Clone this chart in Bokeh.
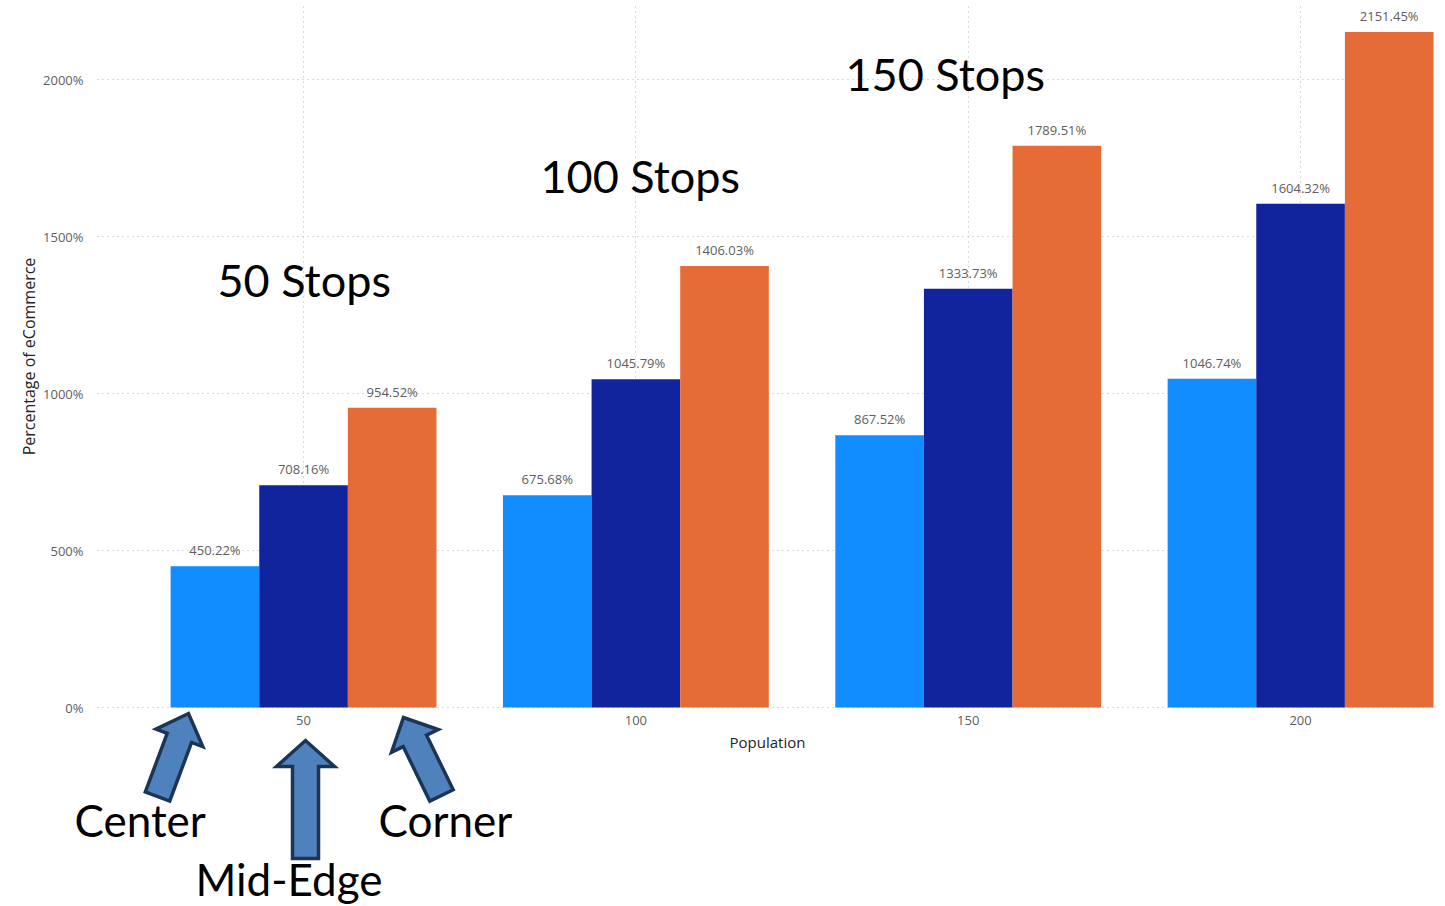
from bokeh.plotting import figure
from bokeh.models import ColumnDataSource, Range1d, FixedTicker, PrintfTickFormatter
from bokeh.transform import dodge
from bokeh.core.properties import value
from bokeh.embed import file_html
from bokeh.resources import INLINE
import math

# Percentage of eCommerce by population, per depot placement
population = [50, 100, 150, 200]
center = [450.22, 675.68, 867.52, 1046.74]
mid_edge = [708.16, 1045.79, 1333.73, 1604.32]
corner = [954.52, 1406.03, 1789.51, 2151.45]
y_ticks = [0, 500, 1000, 1500, 2000]

series_names = ["Center", "Mid-Edge", "Corner"]
series_values = [center, mid_edge, corner]
series_colors = ["#118DFF", "#12239E", "#E66C37"]

stop_labels = ["50 Stops", "100 Stops", "150 Stops"]

# canvas size and the pixel box that holds the bars (pixels)
W, H = 1445, 906
FL, FR, FT, FB = 97, 1437, 5, 707
# data extent of that box
X0, X1 = 19.0, 220.6
Y0, Y1 = 0.0, 2236.0

# the plot frame spans the whole canvas so notes and arrows can sit below the axis
SX = (FR - FL) / (X1 - X0)
SY = (FB - FT) / (Y1 - Y0)
XA, XB = X0 - FL / SX, X0 + (W - FL) / SX
YA, YB = Y0 - (H - FB) / SY, Y1 + FT / SY

GROUP = 40.0
BAR_W = GROUP / 3

TICK_FONT = "Open Sans"
TICK_COLOR = "#605E5C"
NOTE_FONT = "Lato"
BASELINE_SHIFT = 0.38  # em, lifts text drawn with an alphabetic baseline


def to_data(px, py):
    """Canvas pixel position -> data coordinates."""
    return XA + px / SX, YB - py / SY


p = figure(width=W, height=H, title=None,
           x_range=Range1d(XA, XB), y_range=Range1d(YA, YB),
           output_backend="svg", toolbar_location=None,
           min_border_left=0, min_border_right=0,
           min_border_top=0, min_border_bottom=0)
p.outline_line_color = None
p.background_fill_color = "white"
p.border_fill_color = "white"

# axes pinned at the edges of the bar area
p.xaxis.fixed_location = Y0
p.yaxis.fixed_location = X0
p.xaxis.bounds = (X0, X1)
p.yaxis.bounds = (Y0, Y1)
p.xaxis.ticker = FixedTicker(ticks=population)
p.yaxis.ticker = FixedTicker(ticks=y_ticks)
p.yaxis.formatter = PrintfTickFormatter(format="%d%%")
for ax in (p.xaxis, p.yaxis):
    ax.axis_line_color = None
    ax.major_tick_line_color = None
    ax.minor_tick_line_color = None
    ax.major_tick_out = 0
    ax.major_tick_in = 0
    ax.minor_tick_out = 0
    ax.minor_tick_in = 0
    ax.major_label_text_font = TICK_FONT
    ax.major_label_text_font_size = "13px"
    ax.major_label_text_color = TICK_COLOR
    ax.axis_label_text_font = TICK_FONT
    ax.axis_label_text_font_style = "normal"
    ax.axis_label_text_color = "#252423"
p.xaxis.axis_label = "Population"
p.yaxis.axis_label = "Percentage of eCommerce"
p.xaxis.axis_label_text_font_size = "15px"
p.yaxis.axis_label_text_font_size = "16px"
p.yaxis.major_label_standoff = 14
p.yaxis.axis_label_standoff = 0
p.xaxis.major_label_standoff = 8
p.xaxis.axis_label_standoff = 4

# dotted grid limited to the bar area
p.grid.grid_line_color = "#B8B6B4"
p.grid.grid_line_dash = "1 4"
p.grid.grid_line_width = 1
p.xgrid.cross_bounds = (Y0, Y1)
p.ygrid.cross_bounds = (X0, X1)

# grouped bars with value labels
offsets = [-BAR_W, 0.0, BAR_W]
for name, vals, color, off in zip(series_names, series_values, series_colors, offsets):
    src = ColumnDataSource(dict(
        population=population,
        value=vals,
        label=["%.2f%%" % v for v in vals],
    ))
    xd = dodge("population", off, range=p.x_range)
    p.vbar(x=xd, top="value", bottom=0, width=BAR_W, source=src,
           fill_color=color, line_color=None)
    p.text(x=xd, y="value", text="label", source=src,
           text_align="center", text_baseline="alphabetic", y_offset=-16,
           text_font=value(TICK_FONT), text_font_size="13px",
           text_color=TICK_COLOR)


def note(texts, positions, size):
    xs, ys = [], []
    for px, py in positions:
        x, y = to_data(px, py - BASELINE_SHIFT * size)
        xs.append(x)
        ys.append(y)
    p.text(x=xs, y=ys, text=texts, text_align="left", text_baseline="alphabetic",
           text_font=value(NOTE_FONT), text_font_size="%dpx" % size,
           text_color="black")


# "N Stops" notes over the groups
note(stop_labels, [(217, 297), (540, 193), (845, 91)], 45)


def block_arrow(tail, tip, shaft=26, head_w=52, head_l=26):
    tx, ty = tail
    hx, hy = tip
    L = math.hypot(hx - tx, hy - ty)
    ux, uy = (hx - tx) / L, (hy - ty) / L
    nx, ny = -uy, ux
    bx, by = hx - ux * head_l, hy - uy * head_l
    pts = [
        (tx + nx * shaft / 2, ty + ny * shaft / 2),
        (bx + nx * shaft / 2, by + ny * shaft / 2),
        (bx + nx * head_w / 2, by + ny * head_w / 2),
        (hx, hy),
        (bx - nx * head_w / 2, by - ny * head_w / 2),
        (bx - nx * shaft / 2, by - ny * shaft / 2),
        (tx - nx * shaft / 2, ty - ny * shaft / 2),
    ]
    d = [to_data(a, b) for a, b in pts]
    return [q[0] for q in d], [q[1] for q in d]


# arrows pointing at the three bars of the first group
arrow_specs = [
    ((157, 796), (188, 713), 50),
    ((305, 858), (305, 740), 58),
    ((441, 795), (403, 717), 52),
]
axs, ays = [], []
for tail, tip, hw in arrow_specs:
    ax_, ay_ = block_arrow(tail, tip, head_w=hw)
    axs.append(ax_)
    ays.append(ay_)
p.patches(xs=axs, ys=ays, fill_color="#4F81BD", line_color="#1C3557",
          line_width=3.5, line_join="miter")

# placement names under the arrows
note(series_names, [(74, 836), (195, 895), (378, 836)], 44)

open("out.html", "w").write(file_html(p, INLINE))
